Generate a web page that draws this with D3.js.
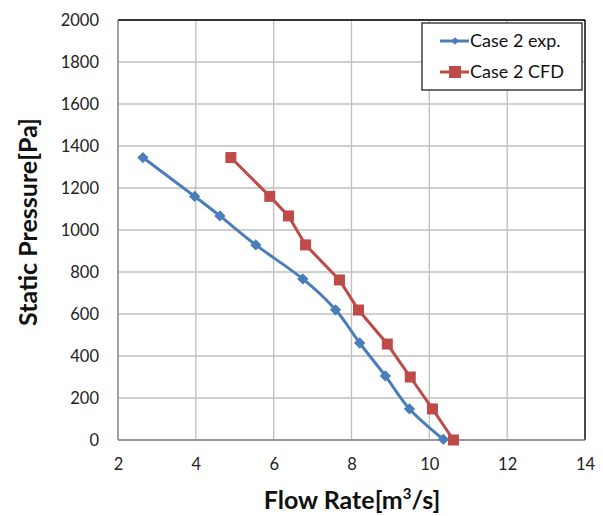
<!DOCTYPE html>
<html><head><meta charset="utf-8">
<script src="https://cdn.jsdelivr.net/npm/d3@7"></script>
<style>body{margin:0;background:#fff}svg{display:block}</style>
</head><body>
<svg id="c" width="603" height="516"></svg>
<script>
const expFlow = [2.64, 3.97, 4.62, 5.54, 6.75, 7.59, 8.21, 8.87, 9.49, 10.36];
const expPressure = [1345, 1160, 1067, 929, 767, 620, 462, 305, 148, 3];
const cfdFlow = [4.90, 5.90, 6.38, 6.82, 7.69, 8.18, 8.92, 9.51, 10.08, 10.62];
const cfdPressure = [1345, 1160, 1067, 929, 762, 619, 457, 300, 148, 0];
const xTicks = [2, 4, 6, 8, 10, 12, 14];
const yTicks = [0, 200, 400, 600, 800, 1000, 1200, 1400, 1600, 1800, 2000];
const seriesNames = ["Case 2 exp.", "Case 2 CFD"];

const svg = d3.select("#c");
const L = 118, R = 585, T = 20, B = 440;
const x = d3.scaleLinear().domain([2, 14]).range([L, R]);
const y = d3.scaleLinear().domain([0, 2000]).range([B, T]);
const font = "Lato, 'Open Sans', sans-serif";
const blue = "#4A7EBB", red = "#BE4B48";

// grid
svg.append("g").selectAll("line").data(xTicks).join("line")
  .attr("x1", d => x(d)).attr("x2", d => x(d)).attr("y1", T).attr("y2", B)
  .attr("stroke", "#bfbfbf").attr("stroke-width", 1.3);
svg.append("g").selectAll("line").data(yTicks).join("line")
  .attr("x1", L).attr("x2", R).attr("y1", d => y(d)).attr("y2", d => y(d))
  .attr("stroke", "#bfbfbf").attr("stroke-width", 1.3);
// frame
svg.append("line").attr("x1", L).attr("x2", R).attr("y1", T).attr("y2", T).attr("stroke", "#000").attr("stroke-width", 1.3);
svg.append("line").attr("x1", R).attr("x2", R).attr("y1", T).attr("y2", B).attr("stroke", "#000").attr("stroke-width", 1.3);
svg.append("line").attr("x1", L).attr("x2", L).attr("y1", T).attr("y2", B).attr("stroke", "#868686").attr("stroke-width", 1.3);
svg.append("line").attr("x1", L).attr("x2", R).attr("y1", B).attr("y2", B).attr("stroke", "#868686").attr("stroke-width", 1.3);

// axes
const xAxis = svg.append("g").attr("transform", `translate(0,${B})`)
  .call(d3.axisBottom(x).tickValues(xTicks).tickFormat(d3.format("d")).tickSize(0).tickPadding(18));
xAxis.select(".domain").remove();
xAxis.selectAll("text").attr("font-family", font).attr("font-size", 16.5).attr("fill", "#222");
const yAxis = svg.append("g").attr("transform", `translate(${L},0)`)
  .call(d3.axisLeft(y).tickValues(yTicks).tickFormat(d3.format("d")).tickSize(0).tickPadding(19));
yAxis.select(".domain").remove();
yAxis.selectAll("text").attr("font-family", font).attr("font-size", 16.5).attr("fill", "#222");

// titles
svg.append("text").attr("x", 352).attr("y", 509).attr("text-anchor", "middle")
  .attr("font-family", font).attr("font-weight", "bold").attr("font-size", 25).attr("fill", "#111")
  .html('Flow Rate[m<tspan dy="-10" font-size="15">3</tspan><tspan dy="10">/s]</tspan>');
svg.append("text").attr("transform", `translate(37,222) rotate(-90)`).attr("text-anchor", "middle")
  .attr("font-family", font).attr("font-weight", "bold").attr("font-size", 25).attr("fill", "#111")
  .text("Static Pressure[Pa]");

// lines
const expData = expFlow.map((v, i) => [v, expPressure[i]]);
const cfdData = cfdFlow.map((v, i) => [v, cfdPressure[i]]);
svg.append("path").datum(expData)
  .attr("d", d3.line().x(d => x(d[0])).y(d => y(d[1])).curve(d3.curveCatmullRom.alpha(0)))
  .attr("fill", "none").attr("stroke", blue).attr("stroke-width", 3);
svg.append("path").datum(cfdData)
  .attr("d", d3.line().x(d => x(d[0])).y(d => y(d[1])))
  .attr("fill", "none").attr("stroke", red).attr("stroke-width", 3);

svg.append("g").selectAll("path").data(expData).join("path")
  .attr("transform", d => `translate(${x(d[0])},${y(d[1])}) rotate(45)`)
  .attr("d", d3.symbol().type(d3.symbolSquare).size(64))
  .attr("fill", blue);
svg.append("g").selectAll("rect").data(cfdData).join("rect")
  .attr("x", d => x(d[0]) - 5.5).attr("y", d => y(d[1]) - 5.5)
  .attr("width", 11).attr("height", 11).attr("fill", red);

// legend
const lg = svg.append("g");
lg.append("rect").attr("x", 422).attr("y", 23).attr("width", 160).attr("height", 67)
  .attr("fill", "#fff").attr("stroke", "#222").attr("stroke-width", 1.3);
const items = [{name: seriesNames[0], color: blue, y: 41, m: "d"}, {name: seriesNames[1], color: red, y: 72, m: "s"}];
items.forEach(it => {
  lg.append("line").attr("x1", 440).attr("x2", 469).attr("y1", it.y).attr("y2", it.y)
    .attr("stroke", it.color).attr("stroke-width", 3);
  if (it.m === "d") {
    lg.append("path").attr("transform", `translate(455,${it.y}) rotate(45)`)
      .attr("d", d3.symbol().type(d3.symbolSquare).size(30)).attr("fill", it.color);
  } else {
    lg.append("rect").attr("x", 449).attr("y", it.y - 6).attr("width", 12).attr("height", 12).attr("fill", it.color);
  }
  lg.append("text").attr("x", 470).attr("y", it.y + 6).attr("font-family", font).attr("font-size", 18)
    .attr("fill", "#111").text(it.name);
});
</script>
</body></html>
